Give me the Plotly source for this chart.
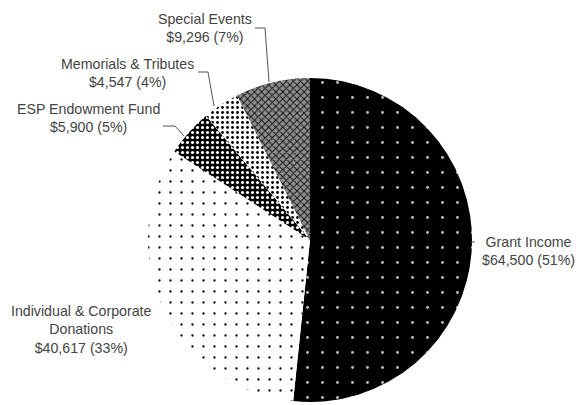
import plotly.graph_objects as go

categories = ["Grant Income", "Individual & Corporate Donations", "ESP Endowment Fund",
              "Memorials & Tributes", "Special Events"]
values = [64500, 40617, 5900, 4547, 9296]
percent_labels = ["51%", "33%", "5%", "4%", "7%"]
label_lines = [["Grant Income"], ["Individual & Corporate", "Donations"], ["ESP Endowment Fund"],
               ["Memorials & Tributes"], ["Special Events"]]

W, H = 576, 405
def px(x): return x / W
def py(y): return 1 - y / H

fig = go.Figure(go.Pie(
    labels=categories, values=values, sort=False, direction="clockwise", rotation=0,
    textinfo="none", hoverinfo="label+value+percent",
    domain=dict(x=[px(148), px(472)], y=[py(402), py(78)]),
    marker=dict(
        colors=["#000000", "#ffffff", "#000000", "#ffffff", "#8a8a8a"],
        line=dict(width=0),
        pattern=dict(
            shape=[".", ".", ".", ".", "x"],
            fgcolor=["#bbbbbb", "#000000", "#ffffff", "#000000", "#111111"],
            bgcolor=["#000000", "#ffffff", "#000000", "#ffffff", "#8f8f8f"],
            size=[15, 11, 5, 5, 5],
            solidity=[0.03, 0.035, 0.3, 0.25, 0.35],
            fillmode="replace",
        ),
    ),
    showlegend=False,
))

# label positions (pixel centers) and leader lines
label_pos = [(528, 251), (81, 329), (88, 118), (127, 73), (205, 28)]
leaders = [
    [(471, 242), (475, 242)],
    None,
    [(163, 126), (175, 126), (184, 136)],
    [(198, 72), (208, 72), (214, 106)],
    [(255, 28), (265, 28), (269, 82)],
]

annotations = []
shapes = []
for i, cat in enumerate(categories):
    text = "<br>".join(label_lines[i] + [f"${values[i]:,} ({percent_labels[i]})"])
    x, y = label_pos[i]
    annotations.append(dict(
        x=px(x), y=py(y), xref="paper", yref="paper", text=text, showarrow=False,
        xanchor="center", yanchor="middle", align="center",
        font=dict(family="Liberation Sans, Arial", size=14.2, color="#444444"),
    ))
    if leaders[i]:
        pts = leaders[i]
        path = "M " + " L ".join(f"{px(a)},{py(b)}" for a, b in pts)
        shapes.append(dict(type="path", xref="paper", yref="paper", path=path,
                           line=dict(color="#555555", width=1)))

fig.update_layout(
    width=W, height=H, margin=dict(l=0, r=0, t=0, b=0),
    paper_bgcolor="white", plot_bgcolor="white",
    annotations=annotations, shapes=shapes,
)
fig.write_html("out.html", config={"displayModeBar": False},
               post_script="document.body.style.margin='0';")
